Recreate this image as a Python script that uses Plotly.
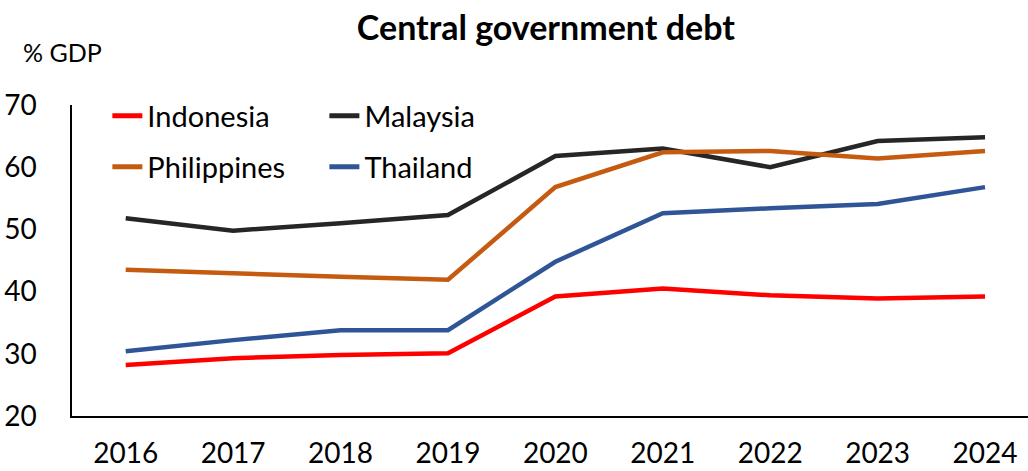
import plotly.graph_objects as go

years = ["2016", "2017", "2018", "2019", "2020", "2021", "2022", "2023", "2024"]
indonesia = [28.2, 29.3, 29.8, 30.1, 39.2, 40.5, 39.4, 38.9, 39.2]
malaysia = [51.8, 49.8, 51.0, 52.3, 61.8, 63.0, 60.0, 64.2, 64.8]
philippines = [43.5, 42.9, 42.4, 41.9, 56.8, 62.4, 62.6, 61.4, 62.6]
thailand = [30.4, 32.2, 33.8, 33.8, 44.8, 52.6, 53.4, 54.1, 56.8]

FONT = "Lato"
fig = go.Figure()
series = [
    ("Indonesia", indonesia, "#FF0000", "legend2"),
    ("Malaysia", malaysia, "#262626", "legend3"),
    ("Philippines", philippines, "#C55A11", "legend4"),
    ("Thailand", thailand, "#2F5597", "legend5"),
]
for name, vals, col, lg in series:
    fig.add_trace(go.Scatter(x=list(range(len(years))), y=vals, name=name, mode="lines",
                             line=dict(color=col, width=4.5), legend=lg))

legend_common = dict(bgcolor="rgba(0,0,0,0)", font=dict(family=FONT, size=29, color="black"),
                     itemsizing="constant", orientation="v",
                     xanchor="left", yanchor="middle", itemwidth=30)
row1, row2 = 0.965, 0.801
colA, colB = 0.037, 0.264
fig.update_layout(
    width=1028, height=471,
    margin=dict(l=72, r=0, t=105, b=55, autoexpand=False),
    paper_bgcolor="white", plot_bgcolor="white",
    title=dict(text="<b>Central government debt</b>", x=0.531, xanchor="center", y=0.94, yanchor="middle",
               font=dict(family=FONT, size=34, color="black")),
    legend2=dict(x=colA, y=row1, **legend_common),
    legend3=dict(x=colB, y=row1, **legend_common),
    legend4=dict(x=colA, y=row2, **legend_common),
    legend5=dict(x=colB, y=row2, **legend_common),
    xaxis=dict(tickmode="array", tickvals=list(range(len(years))), ticktext=years,
               range=[-0.5, 8.4], showgrid=False, zeroline=False, showline=True, automargin=False,
               linecolor="black", linewidth=1.5, ticks="", ticklabelstandoff=12,
               tickfont=dict(family=FONT, size=28, color="black")),
    yaxis=dict(range=[20, 70], tickvals=[20, 30, 40, 50, 60, 70], showgrid=False, zeroline=False,
               showline=True, linecolor="black", linewidth=1.5, ticks="", ticklabelstandoff=28,
               automargin=False, tickfont=dict(family=FONT, size=28, color="black")),
    annotations=[dict(text="% GDP", x=-0.053, y=1.17, xref="paper", yref="paper", showarrow=False,
                      xanchor="left", yanchor="middle",
                      font=dict(family=FONT, size=25, color="black"))],
)
fig.write_html("out.html")
